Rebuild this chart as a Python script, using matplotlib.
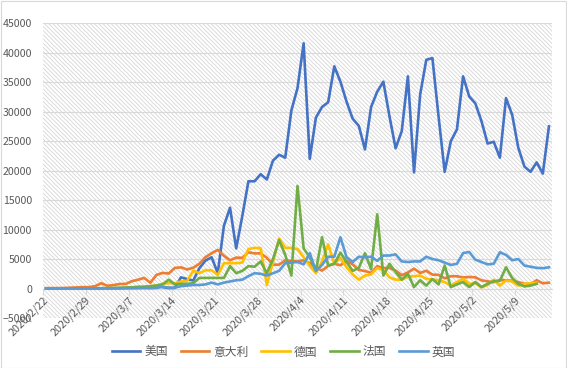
import matplotlib
matplotlib.use("Agg")
import matplotlib.pyplot as plt
from matplotlib.patches import Rectangle
from matplotlib.lines import Line2D
import numpy as np

plt.rcParams['font.family'] = ['Noto Sans CJK SC', 'DejaVu Sans']
plt.rcParams['hatch.color'] = '#d6d6d6'
plt.rcParams['hatch.linewidth'] = 0.6

n_days = 83
tick_labels = ['2020/2/22', '2020/2/29', '2020/3/7', '2020/3/14', '2020/3/21', '2020/3/28',
               '2020/4/4', '2020/4/11', '2020/4/18', '2020/4/25', '2020/5/2', '2020/5/9']
series_names = ['美国', '意大利', '德国', '法国', '英国']
series_colors = ['#4472C4', '#ED7D31', '#FFC000', '#70AD47', '#5B9BD5']

usa = [0, 0, 0, 0, 0, 0, 10, 10, 20, 20,
       30, 50, 80, 100, 120, 150, 200, 300, 400, 250,
       80, 100, 1900, 1600, 1350, 3450, 4750, 5300, 2600, 10650,
       13700, 6800, 12300, 18200, 18200, 19400, 18500, 21700, 22700, 22200,
       30200, 34000, 41600, 22000, 29000, 30800, 31600, 37700, 35100, 31700,
       28800, 27600, 23600, 30800, 33400, 35100, 29200, 23800, 26700, 36000,
       19700, 32900, 38800, 39100, 29200, 19800, 25000, 27000, 36000, 32600,
       31400, 28400, 24600, 24900, 22200, 32300, 29500, 23900, 20700, 19800,
       21400, 19500, 27500]
italy = [60, 78, 72, 94, 147, 185, 234, 239, 400, 900,
         466, 587, 769, 778, 1247, 1492, 1797, 977, 2313, 2651,
         2547, 3497, 3590, 3233, 3526, 4207, 5322, 5986, 6557, 5560,
         4789, 5249, 5210, 6153, 5959, 5974, 5217, 4050, 4053, 4782,
         4668, 4585, 4805, 4316, 3599, 3039, 3836, 4204, 3951, 4694,
         4092, 3153, 2972, 2667, 3786, 3493, 3491, 3047, 2256, 2729,
         3370, 2646, 3021, 2357, 2324, 1739, 2091, 2086, 1872, 1965,
         1900, 1389, 1221, 1075, 1444, 1401, 1327, 1083, 802, 744,
         1402, 888, 992]
germany = [0, 0, 0, 0, 0, 5, 20, 20, 30, 50,
           50, 60, 90, 100, 150, 200, 300, 400, 500, 800,
           900, 900, 1200, 1300, 3000, 2600, 3100, 3100, 2300, 4300,
           4300, 4300, 4400, 6700, 6900, 6850, 600, 4500, 8500, 6900,
           6900, 6700, 5300, 3900, 2600, 4600, 7500, 4200, 5200, 3600,
           2400, 1500, 2200, 2400, 3500, 3100, 1900, 1500, 1500, 2000,
           2100, 2200, 1640, 1550, 1400, 1080, 510, 1100, 1640, 790,
           900, 200, 600, 1500, 500, 1350, 1200, 500, 800, 900,
           1000]
france = [0, 0, 0, 0, 0, 0, 10, 20, 30, 50,
          80, 100, 100, 150, 200, 300, 300, 400, 500, 700,
          1500, 700, 800, 800, 900, 1800, 1800, 1800, 1800, 1800,
          3800, 2600, 3000, 3800, 3700, 4600, 2600, 5000, 8200, 5700,
          2200, 17400, 6800, 5300, 3000, 8700, 3900, 4200, 6100, 4500,
          3000, 3500, 6000, 3300, 12600, 2200, 4200, 2800, 1500, 2500,
          250, 1400, 500, 1600, 700, 3900, 250, 700, 1100, 250,
          1100, 250, 800, 1250, 1300, 3600, 1800, 800, 350, 500,
          800]
uk = [0, 0, 0, 0, 0, 0, 0, 5, 10, 10,
      20, 30, 40, 50, 50, 50, 80, 50, 100, 300,
      150, 150, 400, 500, 600, 600, 700, 1000, 700, 1000,
      1200, 1400, 1500, 2100, 2600, 2500, 2200, 2600, 3000, 4300,
      4400, 4500, 4100, 6000, 3000, 4000, 5400, 5400, 8700, 5300,
      4500, 5400, 5300, 5400, 4700, 5600, 5600, 5800, 4600, 4500,
      4600, 4600, 5400, 5000, 4800, 4400, 4000, 4200, 6000, 6200,
      4900, 4500, 4100, 4200, 6150, 5700, 4800, 5000, 3900, 3700,
      3500, 3450, 3600]

W, H = 567, 368
fig = plt.figure(figsize=(W / 100, H / 100), dpi=100)
fig.patch.set_facecolor('white')
fig.patches.append(Rectangle((0.5 / W, 0.5 / H), (W - 1.5) / W, (H - 1.5) / H,
                             transform=fig.transFigure, fill=False,
                             edgecolor='#d9d9d9', lw=0.8))

left, right, top, bottom = 43, 552, 23.3, 318
ax = fig.add_axes([left / W, 1 - bottom / H, (right - left) / W, (bottom - top) / H])
ax.set_facecolor('none')
ax.add_patch(Rectangle((0, 0), 1, 1, transform=ax.transAxes, facecolor='white',
                       edgecolor='#d6d6d6', hatch='\\' * 8, lw=0, zorder=0))

data = [usa, italy, germany, france, uk]
for vals, name, col in zip(data, series_names, series_colors):
    x = np.arange(len(vals))
    ax.plot(x, vals, color=col, lw=1.9, label=name, solid_joinstyle='round', zorder=3)

ax.set_xlim(-0.5, n_days - 0.5)
ax.set_ylim(-5000, 45000)
ax.set_yticks(np.arange(-5000, 45001, 5000))
ax.yaxis.grid(True, color='#d9d9d9', lw=0.8, zorder=1)
ax.set_axisbelow(True)
for s in ['left', 'right', 'top']:
    ax.spines[s].set_visible(False)
ax.spines['bottom'].set_position(('data', 0))
ax.spines['bottom'].set_color('#d9d9d9')
ax.spines['bottom'].set_linewidth(0.8)
ax.spines['bottom'].set_zorder(1)

label_pos = np.arange(0, 7 * len(tick_labels), 7)
ax.set_xticks(label_pos)
ax.set_xticklabels(tick_labels, rotation=45, ha='right', va='center',
                   rotation_mode='anchor', fontsize=7.8, color='#595959')
ax.tick_params(axis='x', length=0, pad=7)
ax.set_xticks(label_pos - 0.5, minor=True)
ax.tick_params(axis='x', which='minor', length=4, color='#d9d9d9', width=0.8)
ax.tick_params(axis='y', length=0, pad=8, labelsize=7.6, labelcolor='#595959')

handles = [Line2D([], [], color=c, lw=1.9) for c in series_colors]
fig.legend(handles, series_names, loc='center', bbox_to_anchor=(0.5, 1 - 352 / H),
           ncol=5, frameon=False, fontsize=8.5, handlelength=2.4, handletextpad=0.35,
           columnspacing=1.1, labelcolor='#595959')

fig.savefig('out.png', dpi=100, facecolor='white')
